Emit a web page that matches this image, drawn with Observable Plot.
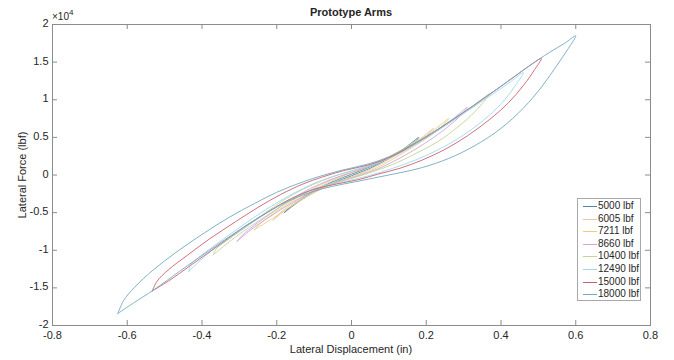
<!DOCTYPE html>
<html>
<head>
<meta charset="utf-8">
<script src="https://cdn.jsdelivr.net/npm/d3@7"></script>
<script src="https://cdn.jsdelivr.net/npm/@observablehq/plot@0.6"></script>
<style>
  html, body { margin: 0; padding: 0; background: #fff; }
  #wrap { position: relative; width: 674px; height: 360px; font-family: "Liberation Sans", Arial, Helvetica, sans-serif; color: #262626; }
  .ov { position: absolute; white-space: nowrap; }
  #legend { position: absolute; left: 577px; top: 198px; width: 64px; height: 103px; border: 1px solid #a8a8a8; background: #fff; box-sizing: border-box; }
  .lrow { position: absolute; left: 0; width: 62px; height: 12px; font-size: 10px; line-height: 12px; white-space: nowrap; }
  .lsw { position: absolute; left: 5px; top: 6px; width: 14px; height: 0; border-top: 1px solid; }
  .ltx { position: absolute; left: 20px; top: 0; white-space: nowrap; }
</style>
</head>
<body>
<div id="wrap"></div>
<script>
// ---- data ----
const seriesLabels = ["5000 lbf", "6005 lbf", "7211 lbf", "8660 lbf", "10400 lbf", "12490 lbf", "15000 lbf", "18000 lbf"];
const seriesColors = ["#4f86a6", "#e9c6a4", "#e6d07e", "#d4a3d6", "#c2d49a", "#9fd8ee", "#c9606f", "#74a9bf"];
const xTicks = [-0.8, -0.6, -0.4, -0.2, 0, 0.2, 0.4, 0.6, 0.8];
const yTicks = [-20000, -15000, -10000, -5000, 0, 5000, 10000, 15000, 20000];

// each loop: upper branch (negative tip -> positive tip), then lower branch back
const loop5000 = [
  [-0.18,-5000],[-0.165,-4300],[-0.14,-3400],[-0.10,-2100],[-0.05,-900],[0,100],[0.05,1100],[0.10,2300],[0.14,3500],[0.18,5000],
  [0.165,4200],[0.14,3400],[0.10,2200],[0.05,900],[0,-100],[-0.05,-1100],[-0.10,-2300],[-0.14,-3500],[-0.18,-5000]
];
const loop6005 = [
  [-0.21,-6000],[-0.195,-5200],[-0.17,-4200],[-0.12,-2600],[-0.07,-1200],[-0.02,-100],[0.03,900],[0.09,2200],[0.14,3500],[0.18,4700],[0.22,6200],
  [0.20,5200],[0.17,4200],[0.13,3000],[0.08,1500],[0.03,300],[-0.02,-600],[-0.08,-1800],[-0.13,-3100],[-0.17,-4400],[-0.21,-6000]
];
const loop7211 = [
  [-0.26,-7300],[-0.245,-6500],[-0.22,-5500],[-0.17,-3800],[-0.12,-2300],[-0.07,-1000],[-0.02,0],[0.04,1000],[0.10,2300],[0.15,3700],[0.20,5200],[0.26,7500],
  [0.24,6400],[0.21,5200],[0.17,3900],[0.12,2400],[0.07,1000],[0.02,0],[-0.04,-1000],[-0.10,-2300],[-0.15,-3800],[-0.20,-5400],[-0.26,-7300]
];
const loop8660 = [
  [-0.306,-8800],[-0.29,-7900],[-0.26,-6700],[-0.21,-4900],[-0.16,-3200],[-0.11,-1800],[-0.06,-700],[-0.01,200],[0.05,1200],[0.11,2500],[0.17,4100],[0.22,5700],[0.27,7400],[0.31,9000],
  [0.29,7800],[0.26,6500],[0.22,5000],[0.17,3400],[0.12,2000],[0.07,800],[0.02,-100],[-0.04,-1000],[-0.10,-2100],[-0.16,-3700],[-0.22,-5600],[-0.27,-7300],[-0.306,-8800]
];
const loop10400 = [
  [-0.37,-10600],[-0.36,-9700],[-0.33,-8600],[-0.28,-6800],[-0.23,-5000],[-0.18,-3300],[-0.13,-1900],[-0.08,-800],[-0.03,100],[0.03,1000],[0.09,2000],[0.15,3500],[0.21,5300],[0.27,7300],[0.32,9000],[0.37,10800],
  [0.35,9500],[0.32,7900],[0.28,6200],[0.23,4400],[0.17,2800],[0.11,1400],[0.06,500],[0.01,-300],[-0.05,-1100],[-0.11,-2100],[-0.17,-3600],[-0.23,-5500],[-0.29,-7500],[-0.33,-9000],[-0.37,-10600]
];
const loop12490 = [
  [-0.435,-12800],[-0.43,-11900],[-0.41,-11000],[-0.37,-9500],[-0.32,-7700],[-0.26,-5600],[-0.20,-3700],[-0.15,-2300],[-0.10,-1100],[-0.05,-200],[0.01,700],[0.07,1600],[0.13,2900],[0.19,4600],[0.25,6500],[0.31,8500],[0.37,10500],[0.42,12200],[0.46,13600],
  [0.44,12000],[0.41,10000],[0.37,8000],[0.32,6000],[0.26,4100],[0.20,2600],[0.14,1400],[0.08,400],[0.03,-300],[-0.03,-1000],[-0.09,-1700],[-0.15,-2900],[-0.21,-4500],[-0.27,-6500],[-0.33,-8500],[-0.39,-10700],[-0.435,-12800]
];
const loop15000 = [
  [-0.533,-15400],[-0.52,-14100],[-0.49,-12600],[-0.44,-10700],[-0.38,-8500],[-0.31,-6200],[-0.25,-4300],[-0.19,-2600],[-0.13,-1200],[-0.08,-300],[-0.02,600],[0.05,1400],[0.11,2500],[0.16,3900],[0.22,5700],[0.29,8000],[0.36,10400],[0.42,12500],[0.47,14300],[0.508,15500],
  [0.49,14000],[0.46,11900],[0.42,9600],[0.37,7400],[0.31,5200],[0.25,3400],[0.19,2000],[0.13,900],[0.07,100],[0.02,-600],[-0.04,-1200],[-0.10,-1900],[-0.16,-3100],[-0.22,-4800],[-0.29,-7000],[-0.36,-9500],[-0.43,-12000],[-0.49,-14100],[-0.533,-15400]
];
const loop18000 = [
  [-0.625,-18400],[-0.61,-16700],[-0.58,-14900],[-0.53,-12600],[-0.47,-10300],[-0.40,-7900],[-0.33,-5700],[-0.26,-3800],[-0.20,-2300],[-0.14,-1100],[-0.08,-100],[-0.02,700],[0.04,1400],[0.10,2400],[0.15,3700],[0.20,5100],[0.26,7000],[0.33,9300],[0.40,11800],[0.47,14300],[0.53,16300],[0.57,17500],[0.60,18500],
  [0.58,16800],[0.55,14600],[0.51,11800],[0.46,8900],[0.40,6200],[0.33,3900],[0.26,2200],[0.19,1000],[0.13,300],[0.07,-300],[0.01,-900],[-0.05,-1500],[-0.11,-2300],[-0.17,-3500],[-0.23,-5100],[-0.30,-7300],[-0.38,-10000],[-0.46,-12800],[-0.53,-15300],[-0.58,-16900],[-0.625,-18400]
];

const loops = [loop5000, loop6005, loop7211, loop8660, loop10400, loop12490, loop15000, loop18000];
const rows = [];
loops.forEach((pts, i) => pts.forEach(([x, y]) => rows.push({s: seriesLabels[i], x, y})));

// ---- layout ----
const W = 674, H = 360, mL = 52, mR = 24, mT = 24, mB = 35;
const pw = W - mL - mR, ph = H - mT - mB;
const axisColor = "#8c8c8c";
const fmtX = d => String(+d.toFixed(1));
const fmtY = d => String(+(d / 1e4).toFixed(1));

const chart = Plot.plot({
  width: W, height: H,
  marginLeft: mL, marginRight: mR, marginTop: mT, marginBottom: mB,
  style: {fontFamily: '"Liberation Sans", Arial, Helvetica, sans-serif', fontSize: "11px", color: "#262626", background: "transparent", overflow: "visible"},
  x: {domain: [-0.8, 0.8]},
  y: {domain: [-20000, 20000]},
  color: {domain: seriesLabels, range: seriesColors},
  marks: [
    Plot.line(rows, {x: "x", y: "y", z: "s", stroke: "s", strokeWidth: 0.9, curve: "catmull-rom"}),
    Plot.frame({stroke: axisColor, strokeWidth: 1}),
    Plot.tickX(xTicks, {x: d => d, stroke: axisColor, insetTop: ph - 5}),
    Plot.tickX(xTicks, {x: d => d, stroke: axisColor, insetBottom: ph - 5}),
    Plot.tickY(yTicks, {y: d => d, stroke: axisColor, insetRight: pw - 5}),
    Plot.tickY(yTicks, {y: d => d, stroke: axisColor, insetLeft: pw - 5}),
    Plot.axisX(xTicks, {tickSize: 0, tickPadding: 6, tickFormat: fmtX, label: null, fill: "#262626"}),
    Plot.axisY(yTicks, {tickSize: 0, tickPadding: 4, tickFormat: fmtY, label: null, fill: "#262626", dy: -1})
  ]
});

const wrap = document.getElementById("wrap");
chart.style.position = "absolute";
chart.style.left = "0px";
chart.style.top = "0px";
wrap.appendChild(chart);

function addText(txt, css) {
  const d = document.createElement("div");
  d.className = "ov";
  d.innerHTML = txt;
  Object.assign(d.style, css);
  wrap.appendChild(d);
  return d;
}
addText("Prototype Arms", {left: "0px", width: W + "px", textAlign: "center", paddingLeft: (mL - mR) + "px", boxSizing: "border-box", top: "6px", fontSize: "11px", fontWeight: "bold", lineHeight: "13px"});
addText("Lateral Displacement (in)", {left: "0px", width: W + "px", textAlign: "center", paddingLeft: (mL - mR) + "px", boxSizing: "border-box", top: "343px", fontSize: "11px", lineHeight: "13px"});
addText("Lateral Force (lbf)", {left: "22px", top: "175px", fontSize: "11px", lineHeight: "13px", transform: "translate(-50%,-50%) rotate(-90deg)"});
addText('&times;10<span style="font-size:8px;position:relative;top:-5px">4</span>', {left: "52px", top: "11px", fontSize: "10px", lineHeight: "12px"});

const leg = document.createElement("div");
leg.id = "legend";
seriesLabels.forEach((lab, i) => {
  const r = document.createElement("div");
  r.className = "lrow";
  r.style.top = (1 + i * 12.6) + "px";
  r.innerHTML = `<span class="lsw" style="border-color:${seriesColors[i]}"></span><span class="ltx">${lab}</span>`;
  leg.appendChild(r);
});
wrap.appendChild(leg);
</script>
</body>
</html>
